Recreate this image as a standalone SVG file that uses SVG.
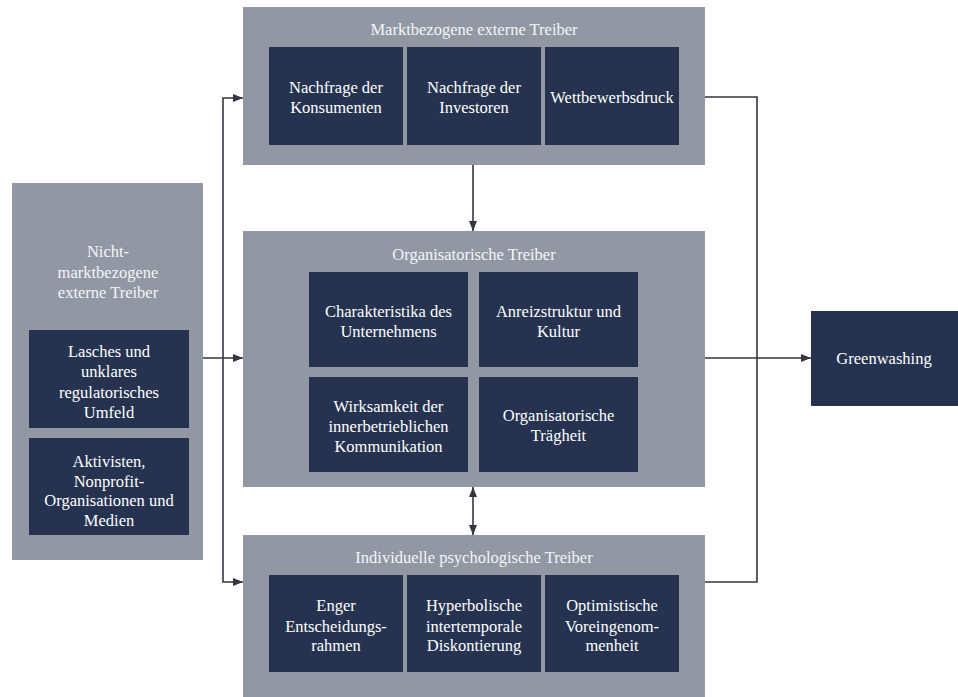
<svg xmlns="http://www.w3.org/2000/svg" width="958" height="697" viewBox="0 0 958 697">
<style>
.panel{fill:#9297a4}
.box{fill:#263350}
text{font-family:"Liberation Serif","Noto Serif","DejaVu Serif",serif;font-size:16.5px;fill:#ffffff;text-anchor:middle}
.title{fill:#f4f5f7}
.conn{stroke:#333640;stroke-width:1.6;fill:none}
</style>
<defs>
<marker id="arr" viewBox="0 0 10 10" refX="10" refY="5" markerWidth="10" markerHeight="10" markerUnits="userSpaceOnUse" orient="auto-start-reverse">
<path d="M0,1 L10,5 L0,9 z" fill="#333640"/>
</marker>
</defs>
<rect width="958" height="697" fill="#ffffff"/>

<g id="connectors">
<path class="conn" d="M243,98 H223 V582 H243" marker-start="url(#arr)" marker-end="url(#arr)"/>
<path class="conn" d="M203,358 H243" marker-end="url(#arr)"/>
<path class="conn" d="M473,165 V231" marker-end="url(#arr)"/>
<path class="conn" d="M473,487 V535" marker-start="url(#arr)" marker-end="url(#arr)"/>
<path class="conn" d="M705,97 H757 V582 H705"/>
<path class="conn" d="M705,358 H811" marker-end="url(#arr)"/>
</g>

<g id="nicht-marktbezogen">
<rect class="panel" x="12" y="183" width="191" height="377"/>
<text class="title" x="108" y="257" font-family="Liberation Serif, serif">Nicht-</text>
<text class="title" x="108" y="278">marktbezogene</text>
<text class="title" x="108" y="298">externe Treiber</text>
</g>
<g id="lasches">
<rect class="box" x="29" y="330" width="160" height="98"/>
<text x="109" y="357">Lasches und</text>
<text x="109" y="377">unklares</text>
<text x="109" y="398">regulatorisches</text>
<text x="109" y="418">Umfeld</text>
</g>
<g id="aktivisten">
<rect class="box" x="29" y="438" width="160" height="97"/>
<text x="109" y="467">Aktivisten,</text>
<text x="109" y="487">Nonprofit-</text>
<text x="109" y="506">Organisationen und</text>
<text x="109" y="526">Medien</text>
</g>

<g id="marktbezogen">
<rect class="panel" x="243" y="7" width="462" height="158"/>
<text class="title" x="474" y="35">Marktbezogene externe Treiber</text>
</g>
<g id="konsumenten">
<rect class="box" x="269" y="47" width="134" height="98"/>
<text x="336" y="93">Nachfrage der</text>
<text x="336" y="113">Konsumenten</text>
</g>
<g id="investoren">
<rect class="box" x="407" y="47" width="134" height="98"/>
<text x="474" y="93">Nachfrage der</text>
<text x="474" y="113">Investoren</text>
</g>
<g id="wettbewerb">
<rect class="box" x="545" y="47" width="134" height="98"/>
<text x="612" y="103">Wettbewerbsdruck</text>
</g>

<g id="organisatorisch">
<rect class="panel" x="243" y="231" width="462" height="256"/>
<text class="title" x="474" y="260">Organisatorische Treiber</text>
</g>
<g id="charakteristika">
<rect class="box" x="309" y="272" width="159" height="95"/>
<text x="388.5" y="317">Charakteristika des</text>
<text x="388.5" y="337">Unternehmens</text>
</g>
<g id="anreiz">
<rect class="box" x="479" y="272" width="159" height="95"/>
<text x="558.5" y="317">Anreizstruktur und</text>
<text x="558.5" y="337">Kultur</text>
</g>
<g id="wirksamkeit">
<rect class="box" x="309" y="377" width="159" height="95"/>
<text x="388.5" y="412">Wirksamkeit der</text>
<text x="388.5" y="432">innerbetrieblichen</text>
<text x="388.5" y="452">Kommunikation</text>
</g>
<g id="traegheit">
<rect class="box" x="479" y="377" width="159" height="95"/>
<text x="558.5" y="421">Organisatorische</text>
<text x="558.5" y="441">Trägheit</text>
</g>

<g id="individuell">
<rect class="panel" x="243" y="535" width="462" height="162"/>
<text class="title" x="474" y="563">Individuelle psychologische Treiber</text>
</g>
<g id="enger">
<rect class="box" x="269" y="575" width="134" height="97"/>
<text x="336" y="611">Enger</text>
<text x="336" y="632">Entscheidungs-</text>
<text x="336" y="651">rahmen</text>
</g>
<g id="hyperbolisch">
<rect class="box" x="407" y="575" width="134" height="97"/>
<text x="474" y="611">Hyperbolische</text>
<text x="474" y="632">intertemporale</text>
<text x="474" y="651">Diskontierung</text>
</g>
<g id="optimistisch">
<rect class="box" x="545" y="575" width="134" height="97"/>
<text x="612" y="611">Optimistische</text>
<text x="612" y="632">Voreingenom-</text>
<text x="612" y="651">menheit</text>
</g>

<g id="greenwashing">
<rect class="box" x="811" y="311" width="147" height="95"/>
<text x="884" y="364">Greenwashing</text>
</g>
</svg>
